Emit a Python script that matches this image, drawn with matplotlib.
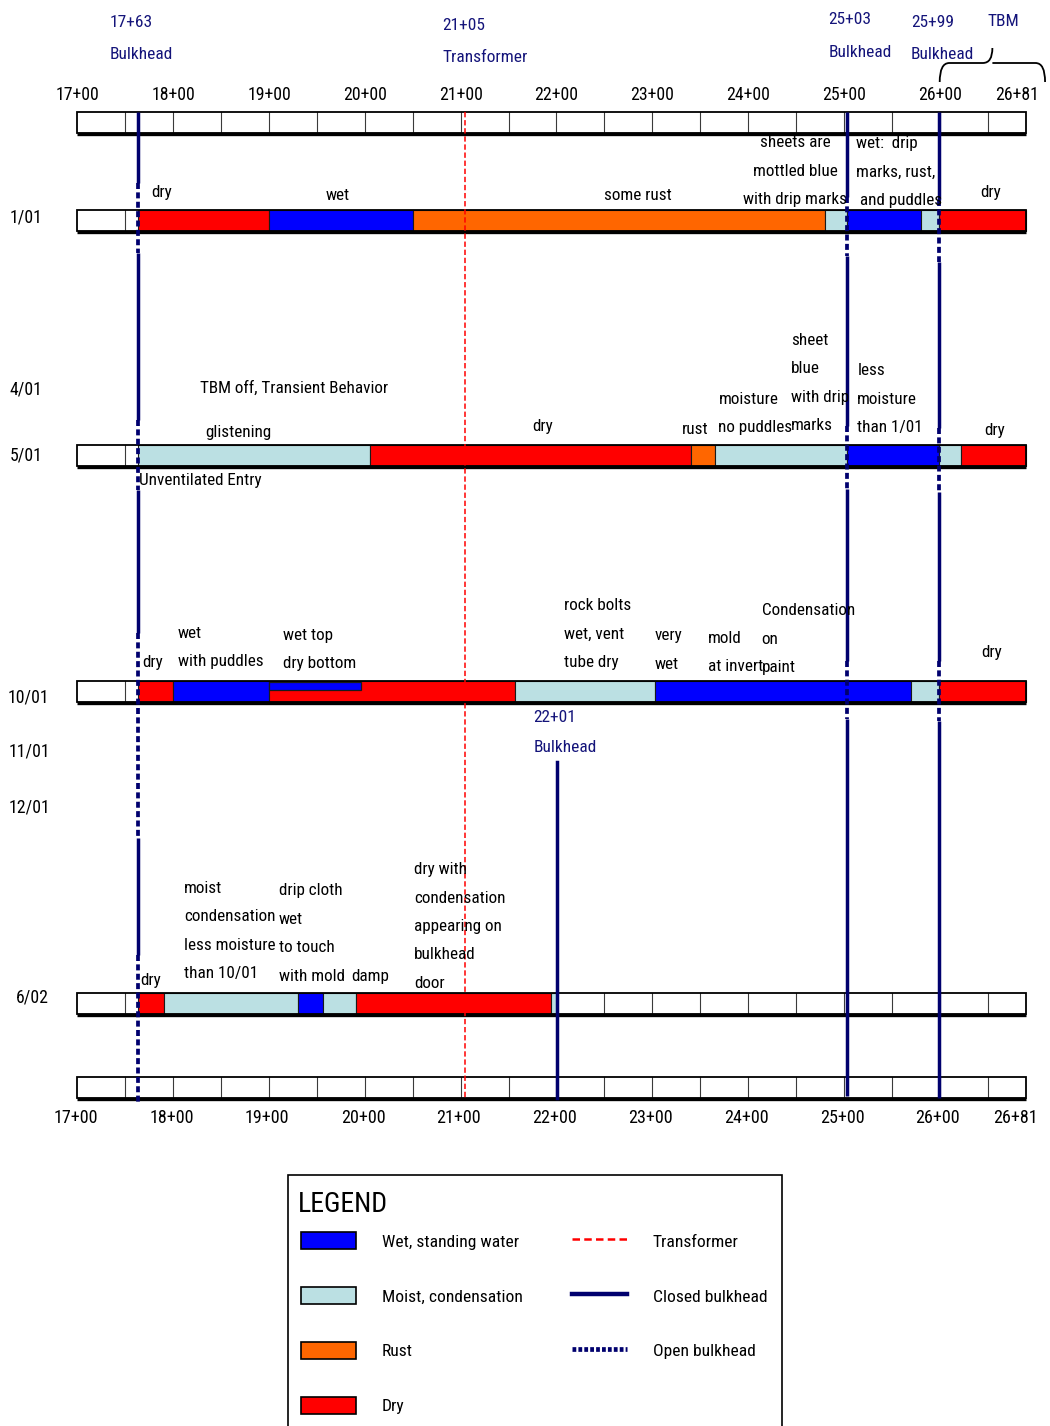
import matplotlib
matplotlib.use("Agg")
import matplotlib.pyplot as plt
from matplotlib.patches import Rectangle, Patch, PathPatch
from matplotlib.lines import Line2D
from matplotlib.path import Path

plt.rcParams["font.family"] = ["Roboto Condensed", "DejaVu Sans"]

# ---- stationing along the tunnel (ft) ----
station_ticks = [1700, 1800, 1900, 2000, 2100, 2200, 2300, 2400, 2500, 2600, 2681]
station_labels = ["17+00", "18+00", "19+00", "20+00", "21+00", "22+00",
                  "23+00", "24+00", "25+00", "26+00", "26+81"]
tunnel_start = 1700
tunnel_end = 2690
cell_length = 50

# ---- fixed features ----
bulkhead_stations = [1763, 2503, 2599]
bulkhead_labels = ["17+63", "25+03", "25+99"]
late_bulkhead_station = 2201
late_bulkhead_label = "22+01"
transformer_station = 2105
transformer_label = "21+05"
tbm_from = 2600
tbm_to = 2710

# ---- conditions ----
condition_keys = ["wet", "moist", "rust", "dry"]
condition_names = ["Wet, standing water", "Moist, condensation", "Rust", "Dry"]
condition_colors = ["#0000FF", "#BBE0E3", "#FF6600", "#FF0000"]

# ---- survey observations: (from station, to station, condition) ----
survey_0101 = [(1763, 1900, "dry"), (1900, 2050, "wet"), (2050, 2480, "rust"),
               (2480, 2503, "moist"), (2503, 2580, "wet"), (2580, 2599, "moist"),
               (2599, 2690, "dry")]
survey_0501 = [(1763, 2005, "moist"), (2005, 2340, "dry"), (2340, 2365, "rust"),
               (2365, 2503, "moist"), (2503, 2599, "wet"), (2599, 2622, "moist"),
               (2622, 2690, "dry")]
survey_1001 = [(1763, 1800, "dry"), (1800, 1900, "wet"), (1900, 2157, "dry"),
               (2157, 2303, "moist"), (2303, 2570, "wet"), (2570, 2599, "moist"),
               (2599, 2690, "dry")]
survey_1001_crown = [(1900, 1996, "wet")]
survey_0602 = [(1763, 1790, "dry"), (1790, 1930, "moist"), (1930, 1956, "wet"),
               (1956, 1991, "moist"), (1991, 2194, "dry"), (2194, 2201, "moist")]

row_dates = ["1/01", "4/01", "5/01", "10/01", "11/01", "12/01", "6/02"]

# ---- layout (vertical positions in pixels from the top) ----
W, H = 1050, 1426
row_label_y = [217, 390, 455, 697, 751, 808, 998]
row_label_x = [1629, 1629, 1629, 1627, 1628, 1628, 1636]
scale_top_y = 112
scale_bottom_y = 1077
bar_top = {"1/01": 210, "5/01": 445, "10/01": 681, "6/02": 993}
bar_h = 21
line_top = 112
line_bottom = {1763: 1105, 2503: 1096, 2599: 1098}
open_spans = {
    1763: [(183, 253), (420, 490), (633, 838), (955, 1105)],
    2503: [(197, 256), (426, 489), (661, 719)],
    2599: [(200, 262), (428, 492), (661, 721)],
}

navy = "#00006E"
label_navy = "#14147A"
colors = dict(zip(condition_keys, condition_colors))

fig = plt.figure(figsize=(W / 100, H / 100), dpi=100)
ax = fig.add_axes([0, 0, 1, 1])
px = 0.958  # pixels per foot
ax.set_xlim(1700 - 77.5 / px, 1700 + (W - 77.5) / px)
ax.set_ylim(H, 0)
ax.axis("off")


def draw_bar(top, segments=(), crown=()):
    ax.add_patch(Rectangle((tunnel_start, top), tunnel_end - tunnel_start, bar_h,
                           fc="white", ec="none", zorder=2))
    for s in range(tunnel_start + cell_length, tunnel_end, cell_length):
        ax.plot([s, s], [top, top + bar_h], color="#3a3a3a", lw=0.8, zorder=2.1)
    for a, b, c in segments:
        ax.add_patch(Rectangle((a, top), b - a, bar_h, fc=colors[c], ec="#1a1a1a",
                               lw=0.8, zorder=3))
    for a, b, c in crown:
        ax.add_patch(Rectangle((a, top + 0.5), b - a, bar_h * 0.42, fc=colors[c],
                               ec="#1a1a1a", lw=0.9, zorder=3.2))
    ax.add_patch(Rectangle((tunnel_start, top), tunnel_end - tunnel_start, bar_h,
                           fc="none", ec="black", lw=1.3, zorder=4))
    ax.plot([tunnel_start, tunnel_end], [top + bar_h + 1.0] * 2, color="black",
            lw=2.4, zorder=4, solid_capstyle="butt")


# scale bars and survey bars
draw_bar(scale_top_y)
draw_bar(scale_bottom_y)
draw_bar(bar_top["1/01"], survey_0101)
draw_bar(bar_top["5/01"], survey_0501)
draw_bar(bar_top["10/01"], survey_1001, survey_1001_crown)
draw_bar(bar_top["6/02"], survey_0602)

# station labels
for s, lab in zip(station_ticks, station_labels):
    ax.text(s, 95, lab, ha="center", va="center", fontsize=12.8, zorder=6)
    ax.text(s - 2, 1118, lab, ha="center", va="center", fontsize=13, zorder=6)

# survey date labels
for d, x, y in zip(row_dates, row_label_x, row_label_y):
    ax.text(x, y, d, ha="left", va="center", fontsize=12.8, zorder=6)

# transformer
ax.plot([transformer_station] * 2, [line_top, 1098], color="#FF0000", lw=1.1,
        ls=(0, (3.5, 1.8)), zorder=5)

# bulkheads: solid when closed, dashed while open
for s in bulkhead_stations:
    y0, y1 = line_top, line_bottom[s]
    edges = [y0]
    for a, b in open_spans[s]:
        edges += [a, b]
    edges.append(y1)
    for i in range(0, len(edges) - 1, 2):
        if edges[i + 1] > edges[i]:
            ax.plot([s, s], [edges[i], edges[i + 1]], color=navy, lw=2.5,
                    solid_capstyle="butt", zorder=5)
    for a, b in open_spans[s]:
        ax.plot([s, s], [a, min(b, y1)], color=navy, lw=2.7,
                ls=(0, (1.6, 0.9)), zorder=5)
ax.plot([late_bulkhead_station] * 2, [762, 1098], color=navy, lw=2.5, zorder=5)

# header labels for features
hdr = dict(color=label_navy, fontsize=12.5, ha="left", va="center",
           linespacing=2.45, zorder=6)
ax.text(1734, 38.5, f"{bulkhead_labels[0]}\nBulkhead", **hdr)
ax.text(2081, 41.5, f"{transformer_label}\nTransformer", **hdr)
ax.text(2484, 36, f"{bulkhead_labels[1]}\nBulkhead", **hdr)
ax.text(2570, 38.5, f"{bulkhead_labels[2]}\nBulkhead", **hdr)
ax.text(2650, 22, "TBM", **hdr)
ax.text(2176, 732.5, f"{late_bulkhead_label}\nBulkhead",
        **{**hdr, "linespacing": 2.3})

# brace over the TBM zone
ym, ye, yt, r = 63, 82, 48, 10
xm = (tbm_from + tbm_to) / 2
verts = [(tbm_from, ye), (tbm_from, ym), (tbm_from + r, ym), (xm - r, ym),
         (xm, ym), (xm, yt),
         (xm, ym), (xm + r, ym), (tbm_to - r, ym), (tbm_to, ym), (tbm_to, ye)]
codes = [Path.MOVETO, Path.CURVE3, Path.CURVE3, Path.LINETO, Path.CURVE3, Path.CURVE3,
         Path.MOVETO, Path.CURVE3, Path.LINETO, Path.CURVE3, Path.CURVE3]
ax.add_patch(PathPatch(Path(verts, codes), fc="none", ec="black", lw=1.3, zorder=6))

# observation notes
note = dict(fontsize=12.3, va="center", linespacing=2.12, zorder=6, color="black")
notes = [
    (1788, 192, "dry", "center"),
    (1972, 195, "wet", "center"),
    (2285, 195, "some rust", "center"),
    (2449, 171, "sheets are\nmottled blue\nwith drip marks", "center"),
    (2513, 172, "wet:  drip\nmarks, rust,\n and puddles", "left"),
    (2653, 192, "dry", "center"),
    (1828, 388, "TBM off, Transient Behavior", "left"),
    (1833, 432, "glistening", "left"),
    (1764, 480, "Unventilated Entry", "left"),
    (2185, 427, "dry", "center"),
    (2331, 429, "rust", "left"),
    (2369, 413.5, "moisture\nno puddles", "left"),
    (2445, 383, "sheet\nblue\nwith drip\nmarks", "left"),
    (2514, 399, "less\nmoisture\nthan 1/01", "left"),
    (2657, 430, "dry", "center"),
    (1778, 662, "dry", "center"),
    (1805, 647.5, "wet\nwith puddles", "left"),
    (1914, 649.5, "wet top\ndry bottom", "left"),
    (2208, 634, "rock bolts\nwet, vent\ntube dry", "left"),
    (2302, 650, "very\nwet", "left"),
    (2358, 652.5, "mold\nat invert", "left"),
    (2414, 639, "Condensation\non\npaint", "left"),
    (2654, 652, "dry", "center"),
    (1766, 980, "dry", "left"),
    (1811, 931, "moist\ncondensation\nless moisture\nthan 10/01", "left"),
    (1910, 933.5, "drip cloth\nwet\nto touch\nwith mold", "left"),
    (1986, 977, "damp", "left"),
    (2051, 926.5, "dry with\ncondensation\nappearing on\nbulkhead\ndoor", "left"),
]
for x, y, t, ha in notes:
    ax.text(x, y, t, ha=ha, **note)

# legend: framed box with a heading, entries in two columns
fig.add_artist(Rectangle((288 / W, 1 - 1432 / H), (782 - 288) / W, (1432 - 1175) / H,
                         transform=fig.transFigure, fc="none", ec="black", lw=1.2,
                         zorder=9))
fig.text(298 / W, 1 - 1204 / H, "LEGEND", fontsize=20, ha="left", va="center",
         zorder=11)
handles = [Patch(fc=c, ec="black", lw=1.2, label=n)
           for c, n in zip(condition_colors, condition_names)]
handles += [
    Line2D([], [], color="#FF0000", lw=1.8, ls=(0, (3, 1.7)), label="Transformer"),
    Line2D([], [], color=navy, lw=3.2, label="Closed bulkhead"),
    Line2D([], [], color=navy, lw=3.4, ls=(0, (0.8, 0.45)), label="Open bulkhead"),
]
leg = ax.legend(handles=handles, ncol=2, loc="upper left",
                bbox_to_anchor=(301 / W, 1 - 1232 / H), bbox_transform=fig.transFigure,
                fontsize=12.6, frameon=False, borderpad=0, labelspacing=2.13,
                handlelength=3.15, handleheight=1.15, handletextpad=1.45,
                columnspacing=2.85, borderaxespad=0)
leg.set_zorder(10)

fig.savefig("out.png", dpi=100)
